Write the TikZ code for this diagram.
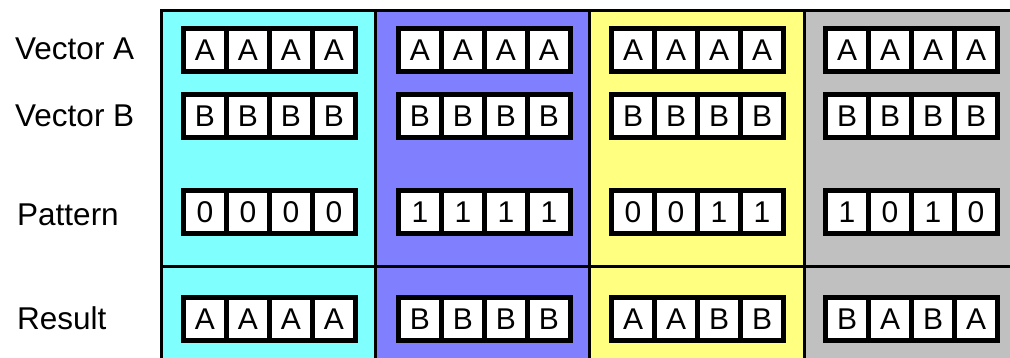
\documentclass[tikz,border=0pt]{standalone}
\usepackage{fontspec}
\setmainfont{Liberation Sans}
\definecolor{ccyan}{HTML}{80FFFF}
\definecolor{cblue}{HTML}{8080FF}
\definecolor{cyellow}{HTML}{FFFF80}
\definecolor{cgray}{HTML}{C0C0C0}
\tikzset{
  cellbox/.style={draw=black, fill=white, line width=5pt, minimum width=43pt, minimum height=43pt, inner sep=0pt, font=\fontsize{30}{30}\selectfont},
  rowlabel/.style={anchor=base west, inner sep=0pt, font=\fontsize{31.5}{31.5}\selectfont},
  frameline/.style={line width=3pt, black}
}
\begin{document}
\begin{tikzpicture}[x=1pt,y=-1pt]
\useasboundingbox (0,0) rectangle (1010,358);
\fill[white] (0,0) rectangle (1010,358);
\begin{scope}
\clip (0,0) rectangle (1010,358);
\fill[ccyan] (161,11) rectangle (375,380);
\fill[cblue] (375,11) rectangle (589,380);
\fill[cyellow] (589,11) rectangle (804,380);
\fill[cgray] (804,11) rectangle (1030,380);
\draw[frameline] (161,380) -- (161,11) -- (1030,11);
\draw[frameline] (375,11) -- (375,380);
\draw[frameline] (589,11) -- (589,380);
\draw[frameline] (804,11) -- (804,380);
\draw[frameline] (161,267) -- (1030,267);
\end{scope}
\node[rowlabel] (lA) at (15,60) {Vector A};
\node[rowlabel] (lB) at (15,127) {Vector B};
\node[rowlabel] (lP) at (17,226) {Pattern};
\node[rowlabel] (lR) at (17,330) {Result};
% cells
\foreach \bx/\col [count=\c] in {181/1, 396/2, 609/3, 823/4}{
  \foreach \ry/\rn/\txt in {50.5/a/{A,A,A,A}, 116.5/b/{B,B,B,B}}{
    \foreach \t [count=\k] in \txt {
      \node[cellbox] (\rn\c\k) at ({\bx+24+(\k-1)*43},\ry) {\t};
    }
  }
}
\foreach \bx/\pat/\res [count=\c] in {181/{0,0,0,0}/{A,A,A,A}, 396/{1,1,1,1}/{B,B,B,B}, 609/{0,0,1,1}/{A,A,B,B}, 823/{1,0,1,0}/{B,A,B,A}}{
  \foreach \t [count=\k] in \pat {
    \node[cellbox] (p\c\k) at ({\bx+24+(\k-1)*43},212.5) {\t};
  }
  \foreach \t [count=\k] in \res {
    \node[cellbox] (r\c\k) at ({\bx+24+(\k-1)*43},319) {\t};
  }
}
\end{tikzpicture}
\end{document}
